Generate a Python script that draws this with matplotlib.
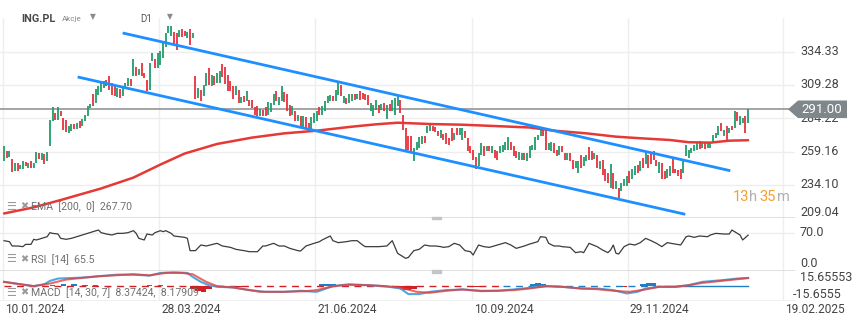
import numpy as np
import matplotlib.pyplot as plt
from matplotlib.patches import Polygon, Rectangle
from matplotlib.transforms import blended_transform_factory

plt.rcParams['font.family'] = ['Roboto', 'DejaVu Sans']

# --- data (daily bars, ING.PL) ---
opens = [
    252.0, 259.5, 255.2, 253.7, 244.5, 250.7, 245.7, 246.2, 251.2, 246.5,
    252.0, 247.0, 250.7, 258.2, 252.7, 257.0, 252.0, 263.7, 282.0, 288.2,
    283.2, 289.5, 284.5, 283.2, 273.2, 274.5, 280.2, 276.2, 281.9, 278.2,
    282.0, 285.7, 292.0, 302.7, 295.7, 302.0, 303.7, 307.0, 313.2, 316.2,
    310.7, 308.2, 300.2, 306.2, 300.7, 307.0, 308.2, 313.7, 315.7, 322.5,
    317.0, 326.2, 318.2, 313.2, 305.7, 327.0, 328.7, 322.0, 324.5, 329.5,
    338.2, 348.2, 346.2, 349.5, 348.2, 345.7, 351.2, 350.2, 344.5, 351.2,
    344.5, 316.2, 299.5, 305.7, 300.7, 308.2, 321.9, 308.2, 315.7, 310.7,
    310.7, 324.9, 322.5, 316.9, 312.5, 308.7, 302.0, 305.2, 295.7, 301.2,
    296.9, 297.7, 298.2, 292.7, 293.2, 285.7, 290.7, 292.7, 286.9, 288.7,
    294.5, 304.5, 294.5, 296.9, 303.7, 302.7, 294.5, 286.9, 289.5, 281.9,
    286.2, 276.9, 285.2, 280.7, 274.5, 280.7, 281.9, 292.7, 286.9, 289.5,
    295.7, 297.5, 301.2, 296.9, 301.9, 309.5, 295.7, 299.5, 295.7, 296.9,
    302.7, 298.7, 304.5, 303.2, 302.7, 301.9, 289.5, 285.7, 290.7, 294.5,
    290.7, 295.7, 283.7, 295.2, 289.5, 286.9, 293.2, 298.2, 286.9, 276.9,
    271.2, 271.2, 251.9, 260.7, 261.9, 265.2, 271.2, 273.2, 274.5, 278.7,
    277.7, 274.5, 269.5, 272.7, 273.2, 269.5, 276.9, 268.2, 276.9, 271.9,
    268.2, 274.5, 269.5, 263.7, 260.7, 255.2, 248.2, 256.9, 263.2, 259.5,
    263.7, 258.2, 260.2, 259.5, 258.2, 258.7, 260.7, 260.7, 266.2, 263.2,
    259.5, 253.2, 253.2, 258.2, 251.9, 254.5, 260.7, 260.7, 268.2, 270.7,
    276.2, 276.2, 260.7, 259.5, 265.7, 260.2, 256.9, 263.2, 258.2, 253.2,
    258.2, 253.2, 246.9, 243.2, 256.9, 248.2, 251.9, 262.7, 259.5, 253.7,
    256.9, 245.7, 253.2, 245.7, 243.2, 231.9, 242.7, 230.7, 231.9, 229.5,
    233.2, 233.2, 244.5, 238.2, 241.9, 248.7, 244.5, 254.5, 249.5, 256.9,
    258.2, 259.5, 253.2, 242.7, 250.7, 244.5, 239.5, 240.7, 254.5, 245.7,
    245.2, 245.7, 243.2, 255.7, 254.5, 258.2, 259.5, 260.7, 266.9, 261.9,
    265.7, 261.9, 261.9, 265.7, 269.5, 271.9, 280.7, 270.7, 278.7, 273.2,
    278.7, 276.9, 288.7, 279.5, 280.7, 285.7, 280.7,
]
closes = [
    263.7, 254.5, 259.5, 243.7, 250.7, 244.5, 249.4, 252.0, 248.2, 250.7,
    246.5, 250.7, 259.2, 253.7, 258.2, 249.5, 258.7, 283.2, 292.7, 283.2,
    292.7, 285.7, 275.7, 273.7, 278.2, 280.2, 276.2, 280.7, 276.7, 283.9,
    287.0, 293.7, 295.2, 293.2, 306.2, 308.2, 310.7, 312.0, 308.2, 305.7,
    301.9, 301.2, 307.0, 299.5, 308.2, 310.7, 314.5, 308.7, 328.7, 315.7,
    321.2, 315.7, 314.5, 304.5, 326.2, 333.7, 322.0, 333.7, 334.5, 341.2,
    348.2, 353.7, 353.7, 339.5, 335.7, 350.7, 345.7, 346.2, 349.5, 339.5,
    348.7, 298.7, 307.0, 296.9, 309.5, 318.2, 309.5, 316.9, 309.5, 318.2,
    319.5, 315.2, 310.2, 304.5, 304.5, 298.7, 308.2, 295.7, 300.2, 296.2,
    304.5, 293.2, 291.9, 286.9, 286.2, 291.2, 285.7, 285.7, 296.2, 295.7,
    302.7, 296.9, 300.2, 308.2, 296.2, 289.5, 285.7, 293.7, 281.9, 286.9,
    276.9, 285.7, 276.9, 274.5, 285.2, 288.2, 289.5, 286.9, 293.7, 296.9,
    301.2, 302.0, 296.9, 305.7, 310.7, 300.7, 300.7, 295.2, 302.7, 302.7,
    298.2, 302.7, 298.2, 298.7, 298.2, 294.5, 295.7, 294.5, 298.2, 288.2,
    295.2, 289.5, 294.5, 289.5, 298.2, 299.5, 301.2, 288.2, 275.7, 259.5,
    260.7, 259.5, 261.9, 266.2, 270.2, 270.7, 265.7, 278.7, 280.7, 274.5,
    273.7, 271.2, 275.2, 268.2, 265.2, 264.5, 266.9, 273.2, 271.9, 276.9,
    276.9, 269.5, 259.5, 258.2, 253.2, 245.7, 258.2, 265.7, 255.7, 263.2,
    259.5, 263.7, 254.5, 253.2, 263.7, 264.5, 266.2, 270.2, 260.7, 255.7,
    254.5, 258.7, 258.2, 253.2, 258.2, 263.2, 264.5, 270.2, 271.9, 275.7,
    270.7, 260.7, 265.7, 266.2, 258.2, 256.2, 263.7, 258.7, 253.2, 258.2,
    251.9, 245.7, 251.9, 251.9, 246.9, 255.2, 256.9, 253.2, 253.2, 258.2,
    246.9, 251.9, 241.9, 236.9, 235.2, 250.2, 230.7, 236.9, 224.5, 235.7,
    238.2, 240.7, 235.7, 245.7, 248.2, 243.2, 251.9, 246.9, 258.7, 246.9,
    249.5, 253.2, 248.2, 251.2, 238.2, 238.7, 245.7, 248.2, 243.2, 242.7,
    240.7, 238.7, 251.9, 264.5, 260.7, 261.9, 264.5, 266.2, 261.2, 265.7,
    261.2, 265.7, 266.2, 271.9, 273.2, 278.2, 274.5, 275.7, 268.2, 276.9,
    275.7, 289.5, 281.9, 286.2, 284.5, 273.2, 291.0,
]

# EMA(200) read at sample bars
ema_day = [0, 11, 21, 36, 48, 58, 67, 79, 92, 104, 116, 129, 138, 146, 158,
           170, 182, 195, 204, 216, 227, 236, 247, 254, 262, 269, 276]
ema_val = [212.6, 217.2, 222.7, 231.4, 239.6, 249.4, 257.7, 264.9, 269.7, 272.9,
           274.9, 277.9, 279.7, 280.9, 279.9, 279.4, 278.4, 277.3, 274.9, 272.9,
           270.4, 269.2, 267.9, 266.2, 265.9, 267.4, 267.7]

# trend channel drawn on the chart (bar, price)
upper_day, upper_px = [44.5, 268.9], [348.2, 245.0]
lower_day, lower_px = [27.8, 252.2], [315.1, 212.2]

# RSI(14) read at sample bars
rsi_day = [0, 2, 3, 5, 7, 8, 10, 11, 12, 14, 16, 17, 18, 20, 21, 23, 25, 27, 29, 31,
           33, 35, 36, 38, 40, 42, 44, 46, 48, 49, 50, 52, 53, 55, 56, 58, 59, 60, 62, 63,
           65, 67, 68, 69, 71, 73, 75, 78, 79, 81, 84, 86, 89, 91, 94, 96, 97, 100, 102, 104,
           106, 109, 110, 112, 115, 117, 118, 121, 122, 124, 127, 129, 131, 133, 134, 137, 139, 142, 144, 146,
           149, 150, 152, 154, 156, 158, 160, 162, 163, 165, 167, 169, 171, 173, 174, 176, 178, 180, 183, 186,
           188, 190, 193, 195, 198, 199, 201, 202, 204, 206, 207, 210, 212, 214, 215, 217, 220, 222, 224, 225,
           226, 227, 228, 230, 232, 234, 236, 238, 240, 242, 244, 246, 249, 251, 253, 254, 256, 258, 261, 262,
           264, 267, 269, 270, 272, 273, 274, 276]
rsi_val = [55.4, 53.6, 45.7, 45.7, 44.5, 48.7, 48.7, 57.9, 56.7, 59.7, 62.7, 70.1, 68.8, 67.6, 59.7, 57.9, 59.7, 62.7, 65.8, 68.8,
           71.9, 74.9, 70.1, 67.6, 65.8, 68.8, 68.8, 70.1, 73.7, 68.8, 59.7, 56.7, 67.6, 65.8, 70.1, 73.7, 71.9, 73.7, 68.8, 64.0,
           62.7, 61.5, 59.7, 37.2, 37.2, 47.5, 45.7, 49.3, 50.6, 45.7, 43.2, 39.6, 37.2, 35.3, 35.3, 45.7, 45.7, 50.6, 45.7, 45.7,
           41.4, 37.2, 36.5, 45.7, 50.6, 53.6, 56.7, 64.0, 55.4, 51.8, 53.6, 55.4, 55.4, 47.5, 44.5, 44.5, 44.5, 45.7, 55.4, 32.3,
           23.1, 25.0, 37.2, 39.6, 47.5, 45.7, 45.7, 44.5, 43.2, 44.5, 50.6, 47.5, 37.2, 35.3, 29.2, 47.5, 44.5, 43.2, 47.5, 51.8,
           47.5, 41.4, 45.7, 49.3, 53.6, 62.7, 61.5, 50.6, 45.7, 45.7, 44.5, 43.2, 33.5, 35.3, 33.5, 50.6, 44.5, 38.4, 33.5, 38.4,
           47.5, 32.3, 31.1, 44.5, 49.3, 47.5, 51.8, 59.7, 55.4, 50.6, 44.5, 51.8, 49.3, 47.5, 62.7, 64.0, 61.5, 64.0, 62.7, 65.8,
           68.8, 67.6, 67.6, 74.9, 68.8, 65.8, 56.7, 65.5]

# MACD(14, 30, 7) read at sample bars
macd_day = [0, 6, 11, 15, 17, 20, 29, 35, 42, 48, 54, 58, 63, 68, 70, 73, 76, 79, 85, 91,
            97, 104, 110, 116, 122, 128, 135, 141, 147, 150, 154, 158, 164, 170, 177, 183, 189, 195, 201, 207,
            214, 220, 226, 231, 235, 238, 243, 249, 254, 259, 266, 272, 276]
macd_val = [4.2, 1.7, -0.3, 1.7, 5.2, 7.7, 8.7, 10.1, 11.8, 11.8, 10.8, 13.6, 14.3, 13.6, 9.4, 4.2, 0.7, -1.0, -1.7, -4.5,
            -6.3, -6.3, -5.2, -6.3, -0.3, 1.7, 0.7, -0.3, -2.8, -8.7, -8.7, -6.3, -4.5, -3.8, -5.2, -5.2, -3.8, -2.1, -0.3, -1.0,
            -2.8, -2.8, -4.5, -8.0, -6.3, -2.8, -1.0, -1.0, 0.7, 4.2, 5.9, 7.7, 8.37]
signal_day = [0, 6, 11, 17, 23, 29, 35, 48, 54, 60, 66, 70, 75, 79, 85, 95, 104, 112, 116, 122,
              128, 135, 141, 147, 153, 158, 164, 170, 177, 183, 189, 195, 201, 207, 214, 220, 226, 232, 238, 243,
              249, 254, 259, 266, 272, 276]
signal_val = [4.2, 1.7, -0.3, 2.4, 6.6, 8.4, 10.1, 12.2, 11.1, 13.6, 13.6, 12.2, 4.2, -0.3, -1.7, -6.3, -6.3, -5.6, -4.5, -0.3,
              1.0, 0.7, -0.3, -1.7, -6.3, -7.3, -5.2, -3.8, -5.6, -5.2, -4.5, -2.8, -0.3, -1.0, -2.8, -3.5, -5.2, -6.3, -3.8, -1.0,
              -1.0, 0.7, 3.1, 5.2, 7.0, 8.18]
hist_day = [18, 22, 26, 30, 34, 54, 58, 70, 72, 74, 76, 86, 88, 118, 120, 122, 136, 146, 148, 150, 152,
            174, 176, 196, 198, 200, 228, 230, 237, 239, 241]
hist_val = [1.2, 1.5, 1.5, 1.2, 1.0, 1.0, 1.2, -3.0, -5.5, -6.0, -3.0, -0.8, -0.8, 1.5, 2.0, 1.5, -0.8, -2.0, -4.0, -4.5, -3.0,
            -1.0, -1.2, 1.5, 2.5, 2.0, -1.2, -1.5, 2.0, 3.0, 2.5]

price_ticks = [209.04, 234.10, 259.16, 284.22, 309.28, 334.33]
date_labels = ['10.01.2024', '28.03.2024', '21.06.2024', '10.09.2024', '29.11.2024', '19.02.2025']
date_day = [-0.4, 57.5, 115.4, 173.4, 231.3, 289.0]

# --- layout in pixels ---
W, H = 859, 326
fig = plt.figure(figsize=(W / 100, H / 100), dpi=100)


def rect(x0, y0, x1, y1):
    return [x0 / W, 1 - y1 / H, (x1 - x0) / W, (y1 - y0) / H]


ax = fig.add_axes(rect(0, 18, 795, 218.2))
ax_rsi = fig.add_axes(rect(0, 218.2, 795, 271))
ax_macd = fig.add_axes(rect(0, 271, 795, 300.7))

grid_c = '#eeeeee'
sep_c = '#dadada'
lab_c = '#444444'

for a in (ax, ax_rsi, ax_macd):
    a.set_xlim(-1.5, 293.4)
    a.set_xticks([])
    a.set_yticks([])
    for s in a.spines.values():
        s.set_visible(False)
    a.patch.set_alpha(0)
    for d in date_day:
        a.axvline(d, color=grid_c, lw=1, zorder=0)

# --- price panel ---
o = np.array(opens)
c = np.array(closes)
x = np.arange(len(c))
up = c >= o
ax.set_ylim(209.04, 359.7)
for p in price_ticks[1:]:
    ax.axhline(p, color=grid_c, lw=1, zorder=0)
ax.axhline(209.04, color=sep_c, lw=1.2, zorder=0)
ax.vlines(x[up], o[up], c[up], color='#1f9d6b', lw=1.3, zorder=3)
ax.vlines(x[~up], o[~up], c[~up], color='#e8303d', lw=1.3, zorder=3)
ax.axhline(c[-1], color='#8c8c8c', lw=1.1, zorder=2)
ax.plot(ema_day, ema_val, color='#e53935', lw=1.8, zorder=4, solid_capstyle='round')
ax.plot(upper_day, upper_px, color='#1e8fff', lw=2.0, zorder=4)
ax.plot(lower_day, lower_px, color='#1e8fff', lw=2.0, zorder=4)

tr = blended_transform_factory(ax.transAxes, ax.transData)
lx = 1 + 5 / 795
for p in price_ticks:
    yy = p if p > 215 else p + 4
    ax.text(lx, yy, f'{p:.2f}', transform=tr, fontsize=9, color=lab_c,
            va='center', ha='left', clip_on=False, zorder=5)

# last price tag
y0, y1 = ax.get_ylim()
bb = ax.get_position()
yf = bb.y0 + (c[-1] - y0) / (y1 - y0) * bb.height
hh = 8.8 / H
tag = Polygon([(788 / W, yf), (798 / W, yf + hh), (847 / W, yf + hh),
               (847 / W, yf - hh), (798 / W, yf - hh)],
              closed=True, transform=fig.transFigure, facecolor='#7f878b',
              edgecolor='none', zorder=10)
fig.patches.append(tag)
fig.text(822 / W, yf, f'{c[-1]:.2f}', color='white', fontsize=9.5,
         ha='center', va='center', zorder=11)

# --- RSI panel ---
ax_rsi.set_ylim(0, 96.5)
ax_rsi.axhline(70, color=grid_c, lw=1, zorder=0)
ax_rsi.axhline(0, color=sep_c, lw=1.2, zorder=0)
ax_rsi.plot(rsi_day, rsi_val, color='#3c3c3c', lw=0.9, zorder=3)
tr_r = blended_transform_factory(ax_rsi.transAxes, ax_rsi.transData)
ax_rsi.text(lx, 70, '70.0', transform=tr_r, fontsize=9, color=lab_c, va='center', clip_on=False)
ax_rsi.text(lx, 1.5, '0.0', transform=tr_r, fontsize=9, color=lab_c, va='bottom', clip_on=False)

# --- MACD panel ---
mlim = 15.65553
ax_macd.set_ylim(-mlim, mlim)
ax_macd.axhline(-mlim, color=grid_c, lw=1.2, zorder=0)
hv = np.array(hist_val)
hd = np.array(hist_day)
ax_macd.bar(hd, hv, width=2.0, color=np.where(hv >= 0, '#1f7fc4', '#d11f26'), zorder=2)
last = len(c) - 1
ax_macd.plot([0, 185], [0, 0], color='#d11f26', lw=1.0, ls=(0, (5, 4)), zorder=2)
ax_macd.plot([185, 245], [0, 0], color='#1f7fc4', lw=1.0, ls=(0, (5, 4)), zorder=2)
ax_macd.plot([245, last], [0, 0], color='#1f7fc4', lw=1.0, zorder=2)
ax_macd.plot(macd_day, macd_val, color='#4ea8e2', lw=1.5, zorder=3)
ax_macd.plot(signal_day, signal_val, color='#e53935', lw=1.5, alpha=0.75, zorder=4)
tr_m = blended_transform_factory(ax_macd.transAxes, ax_macd.transData)
ax_macd.text(lx, mlim, '15.65553', transform=tr_m, fontsize=9, color=lab_c, va='top', clip_on=False)
ax_macd.text(1 - 2 / 795, -mlim, '-15.6555', transform=tr_m, fontsize=9, color=lab_c, va='bottom', clip_on=False)

# date labels
tr_d = blended_transform_factory(ax_macd.transData, ax_macd.transAxes)
for d, s in zip(date_day, date_labels):
    ax_macd.text(d + 0.8, -0.28, s, transform=tr_d, fontsize=8.6, color=lab_c,
                 va='center', ha='left', clip_on=False)

# --- header and indicator captions ---
def ft(px, py, s, **kw):
    fig.text(px / W, 1 - py / H, s, va='center', ha='left', **kw)


ft(21, 18.8, 'ING.PL', fontsize=7.8, weight='bold', color='#4a4a4a')
ft(62, 18.8, 'Akcje', fontsize=5.8, color='#8a8a8a')
ft(90, 16.5, '▼', fontsize=5.5, color='#8a8a8a')
ft(140, 19, 'D1', fontsize=7, color='#555555')
ft(167, 16.5, '▼', fontsize=5.5, color='#8a8a8a')

for py, s in [(206.7, 'EMA  [200,  0]  267.70'), (259.3, 'RSI  [14]  65.5'),
              (292.7, 'MACD  [14, 30, 7]  8.37424,  8.17909')]:
    ft(6, py, '☰', fontsize=8, color='#9a9a9a')
    ft(20, py, '✖', fontsize=7, color='#9a9a9a')
    ft(31.5, py, s, fontsize=7.6, color='#707070')

# session countdown
ft(733, 196.7, '13', fontsize=10.5, color='#f5a02a')
ft(749, 196.7, 'h', fontsize=10.5, color='#b0b0b0')
ft(759, 196.7, '35', fontsize=10.5, color='#f5a02a')
ft(777, 196.7, 'm', fontsize=10.5, color='#b0b0b0')

# panel drag handles
for hy in (216.5, 270):
    fig.patches.append(Rectangle((432 / W, 1 - (hy + 2.5) / H), 9 / W, 2.5 / H,
                                 transform=fig.transFigure, color='#c4c4c4'))

fig.savefig('out.png', dpi=100, facecolor='white')
